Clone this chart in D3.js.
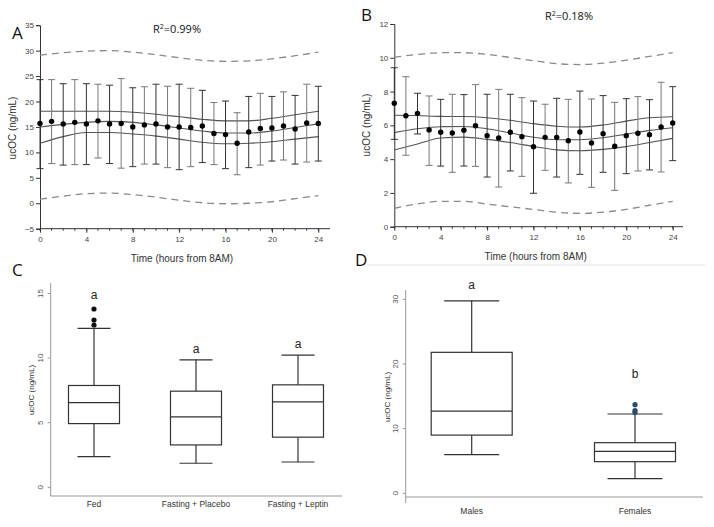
<!DOCTYPE html>
<html><head><meta charset="utf-8">
<script src="https://cdn.jsdelivr.net/npm/d3@7/dist/d3.min.js"></script>
<style>body{margin:0;background:#fff}svg{display:block}</style>
</head><body>
<svg id="c" width="714" height="527"></svg>
<script>
// ---------- DATA ----------
const hours = d3.range(0, 25);
// Panel A
const aMean  = [15.7,16.1,15.6,15.9,15.6,16.2,15.6,15.7,15.0,15.4,15.6,15.0,15.0,14.9,15.2,13.7,13.5,11.8,14.0,14.7,14.8,15.2,14.6,15.8,15.7];
const aUpper = [24.3,24.3,23.5,24.3,23.5,23.4,23.2,24.5,22.7,22.9,23.4,23.0,23.4,22.6,22.2,19.8,20.1,17.8,21.0,21.6,21.0,21.9,21.2,23.4,23.0];
const aLower = [6.8,7.8,7.5,7.6,7.6,8.9,7.8,6.9,7.2,7.7,7.7,7.0,6.6,7.2,8.0,7.6,6.8,5.6,7.0,7.5,8.3,8.5,7.7,8.1,8.3];
const fitHours = [0,2,4,6,8,10,12,14,16,18,20,22,24];
const aFit     = [15.0,15.5,15.9,16.1,15.9,15.4,14.8,14.2,13.8,13.8,14.2,14.9,15.6];
const aFitHi   = [18.1,18.1,18.1,18.1,17.9,17.5,17.0,16.5,16.2,16.2,16.7,17.4,18.1];
const aFitLo   = [11.8,13.1,13.9,13.9,13.6,13.2,12.6,12.0,11.7,11.8,12.1,12.6,13.1];
const aPredHi  = [29.1,29.6,29.9,30.0,29.7,29.2,28.6,28.1,27.9,28.0,28.4,29.0,29.7];
const aPredLo  = [0.8,1.4,1.9,2.0,1.7,1.2,0.6,0.1,-0.1,0.0,0.3,0.9,1.5];
const aTicksY = [-5,0,5,10,15,20,25,30,35];
// Panel B
const bMean  = [7.31,6.57,6.71,5.73,5.59,5.55,5.71,5.98,5.39,5.25,5.59,5.33,4.74,5.29,5.29,5.09,5.61,4.96,5.51,4.76,5.39,5.53,5.45,5.90,6.14];
const bUpper = [9.41,8.88,7.90,7.74,7.54,7.84,7.82,8.41,7.84,8.13,7.84,7.64,7.44,7.25,7.60,7.54,8.03,7.56,7.76,7.36,7.58,7.70,7.52,8.55,8.29];
const bLower = [5.17,4.23,5.49,3.63,3.59,3.22,3.59,3.57,2.94,2.35,3.30,2.98,1.98,3.34,2.94,2.59,3.10,2.33,3.22,2.15,3.14,3.30,3.36,3.24,3.91];
const bFit     = [5.57,5.80,5.92,5.93,5.80,5.55,5.30,5.15,5.15,5.27,5.48,5.70,5.86];
const bFitHi   = [6.60,6.58,6.53,6.52,6.45,6.30,6.10,5.95,5.90,6.02,6.25,6.45,6.51];
const bFitLo   = [4.54,4.90,5.25,5.30,5.17,4.98,4.75,4.55,4.50,4.58,4.74,4.98,5.23];
const bPredHi  = [10.03,10.20,10.30,10.30,10.20,10.02,9.83,9.65,9.60,9.68,9.86,10.08,10.30];
const bPredLo  = [1.09,1.35,1.50,1.50,1.34,1.18,1.02,0.86,0.79,0.86,1.03,1.27,1.50];
const bTicksY = [0,2,4,6,8,10,12];
const xTicks = [0,4,8,12,16,20,24];
// Panel C
const cCats = ["Fed","Fasting + Placebo","Fasting + Leptin"];
const cWhiskLo = [2.37,1.86,1.96];
const cQ1      = [4.93,3.28,3.88];
const cMedian  = [6.56,5.45,6.61];
const cQ3      = [7.88,7.44,7.93];
const cWhiskHi = [12.3,9.87,10.23];
const cOutliers = [[13.8,12.95,12.56],[],[]];
const cLetters = ["a","a","a"];
const cTicksY = [0,5,10,15];
// Panel D
const dCats = ["Males","Females"];
const dWhiskLo = [5.97,2.26];
const dQ1      = [9.0,4.89];
const dMedian  = [12.7,6.49];
const dQ3      = [21.8,7.83];
const dWhiskHi = [29.77,12.26];
const dOutliers = [[],[13.7,12.8,12.5]];
const dLetters = ["a","b"];
const dTicksY = [0,10,20,30];

// ---------- DRAW ----------
const svg = d3.select("#c");
const AX = "Liberation Sans, Arial, sans-serif";
const CAL = "Open Sans, Noto Sans, sans-serif";

function timePanel(o){
  const g = svg.append("g");
  const x = d3.scaleLinear().domain([0,24]).range(o.xr);
  const y = d3.scaleLinear().domain(o.yd).range(o.yr);
  const ya = g.append("g").attr("transform",`translate(${o.xr[0]},0)`)
    .call(d3.axisLeft(y).tickValues(o.yt).tickSize(4).tickPadding(2));
  ya.select(".domain").attr("stroke","#333");
  ya.selectAll("line").attr("stroke","#333");
  ya.selectAll("text").attr("font-family",AX).attr("font-size",8).attr("fill","#444");
  const xa = g.append("g").attr("transform",`translate(0,${o.yr[0]})`)
    .call(d3.axisBottom(x).tickValues(xTicks).tickSize(4).tickPadding(4));
  xa.select(".domain").remove();
  xa.selectAll("line").attr("stroke","#333");
  xa.selectAll("text").attr("font-family",AX).attr("font-size",8).attr("fill","#444");
  g.append("line").attr("x1",o.xr[0]).attr("x2",o.xEnd).attr("y1",o.yr[0]).attr("y2",o.yr[0]).attr("stroke","#333");
  g.selectAll(".minor").data(hours).join("line")
    .attr("x1",d=>x(d)).attr("x2",d=>x(d)).attr("y1",o.yr[0]).attr("y2",o.yr[0]+2).attr("stroke","#333");
  const line = d3.line().x((d,i)=>x(fitHours[i])).y(d=>y(d)).curve(d3.curveMonotoneX);
  [o.predHi,o.predLo].forEach(arr=>g.append("path").attr("d",line(arr)).attr("fill","none")
    .attr("stroke","#8a8a8a").attr("stroke-width",1.3).attr("stroke-dasharray","7,5"));
  [o.fitHi,o.fit,o.fitLo].forEach(arr=>g.append("path").attr("d",line(arr)).attr("fill","none")
    .attr("stroke","#555").attr("stroke-width",1.1));
  const eb = g.selectAll(".eb").data(hours).join("g").attr("stroke",(d,i)=>i%2?"#777":"#333").attr("stroke-width",1);
  eb.append("line").attr("x1",d=>x(d)).attr("x2",d=>x(d)).attr("y1",(d,i)=>y(o.upper[i])).attr("y2",(d,i)=>y(o.lower[i]));
  eb.append("line").attr("x1",d=>x(d)-3.5).attr("x2",d=>x(d)+3.5).attr("y1",(d,i)=>y(o.upper[i])).attr("y2",(d,i)=>y(o.upper[i]));
  eb.append("line").attr("x1",d=>x(d)-3.5).attr("x2",d=>x(d)+3.5).attr("y1",(d,i)=>y(o.lower[i])).attr("y2",(d,i)=>y(o.lower[i]));
  g.selectAll(".dot").data(hours).join("circle").attr("cx",d=>x(d)).attr("cy",(d,i)=>y(o.mean[i])).attr("r",2.7).attr("fill","#000");
  g.append("text").attr("x",o.title[0]).attr("y",o.title[1]).attr("text-anchor","middle")
    .attr("font-family",CAL).attr("font-size",11).attr("fill","#111")
    .html(o.titleHtml);
  g.append("text").attr("x",o.letter[0]).attr("y",o.letter[1]).attr("font-family",CAL).attr("font-size",17).attr("fill","#111").text(o.letterT);
  g.append("text").attr("x",(o.xr[0]+o.xEnd)/2-3).attr("y",o.xlabY).attr("text-anchor","middle")
    .attr("font-family",AX).attr("font-size",10).attr("fill","#333").text("Time (hours from 8AM)");
  g.append("text").attr("transform",`translate(${o.ylab[0]},${o.ylab[1]}) rotate(-90)`).attr("text-anchor","middle")
    .attr("font-family",AX).attr("font-size",10).attr("fill","#333").text("ucOC (ng/mL)");
}

timePanel({xr:[40,318.3],xEnd:330,yd:[-5,35],yr:[228.7,25.2],yt:aTicksY,
  mean:aMean,upper:aUpper,lower:aLower,fit:aFit,fitHi:aFitHi,fitLo:aFitLo,predHi:aPredHi,predLo:aPredLo,
  title:[177,33],titleHtml:'R<tspan dy="-4" font-size="7">2</tspan><tspan dy="4">=0.99%</tspan>',
  letter:[12,39],letterT:"A",xlabY:262,ylab:[16,128]});
timePanel({xr:[394.3,672.7],xEnd:683,yd:[0,12],yr:[226.7,24],yt:bTicksY,
  mean:bMean,upper:bUpper,lower:bLower,fit:bFit,fitHi:bFitHi,fitLo:bFitLo,predHi:bPredHi,predLo:bPredLo,
  title:[569,20],titleHtml:'R<tspan dy="-4" font-size="7">2</tspan><tspan dy="4">=0.18%</tspan>',
  letter:[361,21],letterT:"B",xlabY:260,ylab:[370,125]});

function boxPanel(o){
  const g = svg.append("g");
  const x = d3.scalePoint().domain(o.cats).range(o.xr);
  const y = d3.scaleLinear().domain(o.yd).range(o.yr);
  g.append("line").attr("x1",o.axX).attr("x2",o.axX).attr("y1",o.axTop).attr("y2",o.axBot).attr("stroke","#999");
  g.append("line").attr("x1",o.axX).attr("x2",o.axRight).attr("y1",o.axY).attr("y2",o.axY).attr("stroke","#999");
  const ya = g.append("g").attr("transform",`translate(${o.axX},0)`).call(d3.axisLeft(y).tickValues(o.yt).tickSize(3).tickPadding(3));
  ya.select(".domain").remove();
  ya.selectAll("line").attr("stroke","#999");
  ya.selectAll(".tick").attr("transform",null);
  ya.selectAll(".tick line").attr("y1",d=>y(d)).attr("y2",d=>y(d));
  ya.selectAll(".tick text").attr("font-family",AX).attr("font-size",8).attr("fill","#555")
    .attr("text-anchor","middle").attr("dy",null).attr("x",0).attr("y",0)
    .attr("transform",d=>`translate(-8,${y(d)}) rotate(-90)`);
  const bx = g.selectAll(".box").data(o.cats).join("g");
  bx.append("line").attr("x1",d=>x(d)).attr("x2",d=>x(d)).attr("y1",(d,i)=>y(o.whi[i])).attr("y2",(d,i)=>y(o.q3[i])).attr("stroke","#333").attr("stroke-width",1.2);
  bx.append("line").attr("x1",d=>x(d)).attr("x2",d=>x(d)).attr("y1",(d,i)=>y(o.q1[i])).attr("y2",(d,i)=>y(o.wlo[i])).attr("stroke","#333").attr("stroke-width",1.2);
  bx.append("line").attr("x1",d=>x(d)-o.cw/2).attr("x2",d=>x(d)+o.cw/2).attr("y1",(d,i)=>y(o.whi[i])).attr("y2",(d,i)=>y(o.whi[i])).attr("stroke","#333").attr("stroke-width",1.2);
  bx.append("line").attr("x1",d=>x(d)-o.cw/2).attr("x2",d=>x(d)+o.cw/2).attr("y1",(d,i)=>y(o.wlo[i])).attr("y2",(d,i)=>y(o.wlo[i])).attr("stroke","#333").attr("stroke-width",1.2);
  bx.append("rect").attr("x",d=>x(d)-o.bw/2).attr("width",o.bw).attr("y",(d,i)=>y(o.q3[i])).attr("height",(d,i)=>y(o.q1[i])-y(o.q3[i]))
    .attr("fill","#fff").attr("stroke","#333").attr("stroke-width",1.2);
  bx.append("line").attr("x1",d=>x(d)-o.bw/2).attr("x2",d=>x(d)+o.bw/2).attr("y1",(d,i)=>y(o.med[i])).attr("y2",(d,i)=>y(o.med[i])).attr("stroke","#333").attr("stroke-width",1.2);
  bx.each(function(d,i){
    d3.select(this).selectAll("circle").data(o.out[i]).join("circle").attr("cx",x(d)).attr("cy",v=>y(v)).attr("r",2.6).attr("fill",o.outColor);
  });
  bx.append("text").attr("x",d=>x(d)).attr("y",(d,i)=>y(o.whi[i])+o.letterOff[i]).attr("text-anchor","middle")
    .attr("font-family",AX).attr("font-size",12).attr("fill","#222").text((d,i)=>o.letters[i]);
  bx.append("text").attr("x",d=>x(d)).attr("y",o.catY).attr("text-anchor","middle").attr("font-family",AX).attr("font-size",8.5).attr("fill","#333").text(d=>d);
  g.append("text").attr("transform",`translate(${o.ylab[0]},${o.ylab[1]}) rotate(-90)`).attr("text-anchor","middle")
    .attr("font-family",AX).attr("font-size",8).attr("fill","#333").text("ucOC (ng/mL)");
  g.append("text").attr("x",o.letter[0]).attr("y",o.letter[1]).attr("font-family",CAL).attr("font-size",17).attr("fill","#111").text(o.letterT);
}

boxPanel({cats:cCats,xr:[94,298],yd:[0,15],yr:[487.3,293.5],yt:cTicksY,
  axX:50.7,axTop:283,axBot:496,axY:496,axRight:342,
  wlo:cWhiskLo,q1:cQ1,med:cMedian,q3:cQ3,whi:cWhiskHi,out:cOutliers,outColor:"#111",
  letters:cLetters,letterOff:[-29,-7,-7],bw:51,cw:33,catY:507,ylab:[34,390],letter:[12,276],letterT:"C"});
boxPanel({cats:dCats,xr:[471.7,635],yd:[0,30],yr:[493.3,299.3],yt:dTicksY,
  axX:405.7,axTop:290,axBot:503,axY:497,axRight:703,
  wlo:dWhiskLo,q1:dQ1,med:dMedian,q3:dQ3,whi:dWhiskHi,out:dOutliers,outColor:"#2b4a6b",
  letters:dLetters,letterOff:[-12,-36],bw:81,cw:55,catY:514,ylab:[390,397],letter:[355,266],letterT:"D"});
svg.append("line").attr("x1",368).attr("x2",705).attr("y1",265).attr("y2",265).attr("stroke","#e4e4e4");
</script>
</body></html>
